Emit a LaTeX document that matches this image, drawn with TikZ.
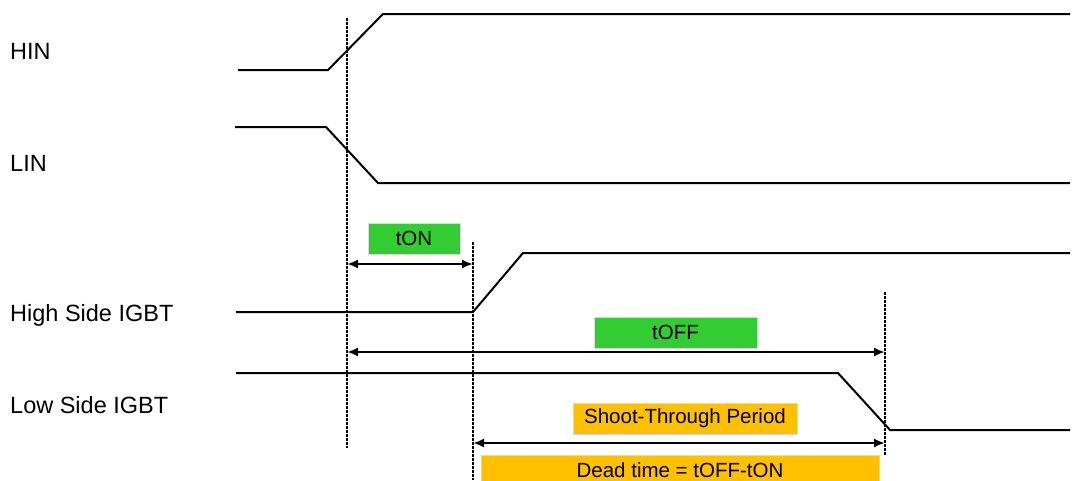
\documentclass[tikz,border=0pt]{standalone}
\usepackage{fontspec}
\setmainfont{Liberation Sans}
\usetikzlibrary{arrows.meta}
\definecolor{tgreen}{HTML}{33CC33}
\definecolor{torange}{HTML}{FFC000}
\begin{document}
\begin{tikzpicture}[x=1pt,y=-1pt,
  signal/.style={line width=2pt,line join=miter},
  marker/.style={line width=1.4pt,dash pattern=on 2.5pt off 1.5pt},
  span/.style={line width=2.8pt,{Latex[length=11pt,width=9pt]}-{Latex[length=11pt,width=9pt]}},
  sig label/.style={anchor=base west,inner sep=0pt,font=\fontsize{23.5}{26}\selectfont},
  tag/.style={draw=black!15,line width=0.8pt,inner sep=0pt,font=\fontsize{20.5}{23}\selectfont,text=black},
  greentag/.style={tag,fill=tgreen},
  orangetag/.style={tag,fill=torange}]
\useasboundingbox (0,0) rectangle (1073,480);
\clip (0,0) rectangle (1073,480);

% signal names
\node[sig label] (hin)  at (10,59)    {HIN};
\node[sig label] (lin)  at (10,171.5) {LIN};
\node[sig label] (hs)   at (10,321.5) {High Side IGBT};
\node[sig label] (ls)   at (10,413.5) {Low Side IGBT};

% waveforms
\draw[signal] (238,70)  -- (328,70)  -- (383,14)  -- (1070,14);
\draw[signal] (235,127) -- (326,127) -- (378,183) -- (1070,183);
\draw[signal] (236,312) -- (473,312) -- (523,253) -- (1070,253);
\draw[signal] (236,373) -- (838,373) -- (890,430) -- (1070,430);

% timing markers
\coordinate (m1top) at (347,18);   \coordinate (m1bot) at (347,448);
\coordinate (m2top) at (473,242);  \coordinate (m2bot) at (473,480);
\coordinate (m3top) at (885,292);  \coordinate (m3bot) at (885,455);
\draw[marker] (m1top) -- (m1bot);
\draw[marker] (m2top) -- (m2bot);
\draw[marker] (m3top) -- (m3bot);

% intervals
\coordinate (ton a)  at (347,264); \coordinate (ton b)  at (473,264);
\coordinate (toff a) at (347,352); \coordinate (toff b) at (885,352);
\coordinate (dt a)   at (473,443); \coordinate (dt b)   at (885,443);
\draw[span] (ton a) -- (ton b);
\draw[span] (toff a) -- (toff b);
\draw[span] (dt a) -- (dt b);

% interval tags
\node[greentag,minimum width=92pt,minimum height=31pt]   (ton)   at (414,238.5)   {tON};
\node[greentag,minimum width=163pt,minimum height=31pt]  (toff)  at (675.5,332.5) {tOFF};
\node[orangetag,minimum width=224pt,minimum height=31pt] (shoot) at (685,418.5)   {Shoot-Through Period};
\node[orangetag,minimum width=398pt,minimum height=31pt] (dead)  at (680,470.5)   {Dead time = tOFF-tON};
\end{tikzpicture}
\end{document}
